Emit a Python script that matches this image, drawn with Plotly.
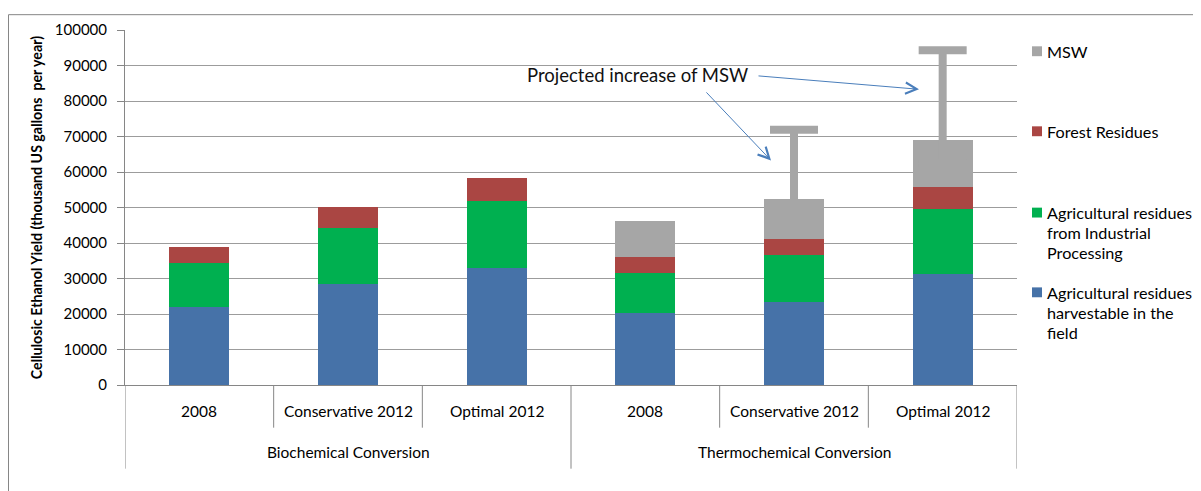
import plotly.graph_objects as go

# ---------------- data ----------------
groups = ["Biochemical Conversion", "Thermochemical Conversion"]
scenarios = ["2008", "Conservative 2012", "Optimal 2012"]
categories = [f"{g} | {s}" for g in groups for s in scenarios]

ag_field = [21900, 28400, 33000, 20200, 23500, 31400]
ag_industrial = [12500, 15700, 18800, 11400, 13100, 18100]
forest = [4400, 6000, 6600, 4400, 4600, 6200]
msw = [None, None, None, 10300, 11300, 13200]
msw_projected_increase = [None, None, None, None, 19400, 25400]

series_names = ["Agricultural residues harvestable in the field",
                "Agricultural residues from Industrial Processing",
                "Forest Residues", "MSW"]
legend_lines = [["Agricultural residues", "harvestable in the", "field"],
                ["Agricultural residues", "from Industrial", "Processing"],
                ["Forest Residues"], ["MSW"]]
colors = ["#4672A8", "#00B050", "#AA4643", "#A6A6A6"]

y_title = "Cellulosic Ethanol Yield (thousand US gallons  per year)"
annotation_text = "Projected increase of MSW"

# ---------------- layout geometry (page pixels) ----------------
OFF = 8                      # default body margin of the html page
PAGE_W, PAGE_H = 1201, 491
W, H = PAGE_W - OFF, PAGE_H - OFF
L, R_EDGE, T, B_EDGE = 125, 1017, 26, 385.3
PW, PH = R_EDGE - L, B_EDGE - T


def px(xp):
    return (xp - L) / PW


def py(yp):
    return (B_EDGE - yp) / PH


FONT = "Lato, 'Open Sans', sans-serif"
AXIS_COLOR = "#868686"

fig = go.Figure()
values = [ag_field, ag_industrial, forest, msw]
for name, vals, col in zip(series_names, values, colors):
    fig.add_trace(go.Bar(x=categories, y=vals, name=name,
                         marker=dict(color=col, line=dict(width=0)),
                         showlegend=False))

# projected MSW increase as error bars on top of the stacks
idx = [i for i, v in enumerate(msw_projected_increase) if v is not None]
totals = [sum(v[i] or 0 for v in values) for i in idx]
fig.add_trace(go.Scatter(
    x=[categories[i] for i in idx], y=totals, mode="markers",
    marker=dict(size=1, opacity=0), showlegend=False, hoverinfo="skip",
    error_y=dict(type="data", symmetric=False,
                 array=[msw_projected_increase[i] for i in idx],
                 arrayminus=[msw[i] / 2 for i in idx],
                 color="#A6A6A6", thickness=8, width=24)))

fig.update_layout(
    width=W, height=H,
    margin=dict(l=L - OFF, r=PAGE_W - R_EDGE, t=T - OFF, b=PAGE_H - B_EDGE, pad=0),
    barmode="stack", bargap=0.597,
    plot_bgcolor="white", paper_bgcolor="white",
    font=dict(family=FONT, size=15, color="#000000"),
    showlegend=False,
)
fig.update_yaxes(range=[0, 100000], dtick=10000, showgrid=True,
                 gridcolor="#9C9C9C", gridwidth=1, zeroline=False,
                 showline=True, linecolor=AXIS_COLOR, linewidth=1,
                 ticks="outside", ticklen=7, tickcolor=AXIS_COLOR,
                 tickformat="d", ticklabelstandoff=7,
                 tickfont=dict(family=FONT, size=15, color="#000000"))
fig.update_xaxes(type="category", range=[-0.5, 5.5], showticklabels=False,
                 showline=True, linecolor=AXIS_COLOR, linewidth=1,
                 showgrid=False, ticks="")

shapes = []
for xb in [-0.5, 0.5, 1.5, 2.5, 3.5, 4.5, 5.5]:
    long_line = xb in (-0.5, 2.5, 5.5)
    shapes.append(dict(type="line", xref="x", yref="paper", x0=xb, x1=xb,
                       y0=0, y1=py(470 if long_line else 428.5),
                       line=dict(color=AXIS_COLOR, width=1)))
# outer chart border
shapes.append(dict(type="rect", xref="paper", yref="paper",
                   x0=px(8.5), x1=px(1300), y0=py(10.5), y1=py(600),
                   line=dict(color=AXIS_COLOR, width=1), layer="below"))

annotations = []
for i, c in enumerate(categories):
    annotations.append(dict(x=i, xref="x", y=py(411.5), yref="paper",
                            text=scenarios[i % 3], showarrow=False,
                            xanchor="center", yanchor="middle",
                            font=dict(size=15.5, family=FONT, color="#000")))
for gi, g in enumerate(groups):
    annotations.append(dict(x=gi * 3 + 1, xref="x", y=py(453), yref="paper",
                            text=g, showarrow=False, xanchor="center",
                            yanchor="middle",
                            font=dict(size=15.5, family=FONT, color="#000")))
annotations.append(dict(x=px(36.5), y=py(206), xref="paper", yref="paper",
                        text=f"<b>{y_title}</b>", textangle=-90,
                        showarrow=False, xanchor="center", yanchor="middle",
                        font=dict(size=14.2, family=FONT, color="#000")))
annotations.append(dict(x=px(525), y=py(72), xref="paper", yref="paper",
                        text=annotation_text, showarrow=False,
                        xanchor="left", yanchor="middle",
                        font=dict(size=18.5, family=FONT, color="#111")))
for head, tail in [((919, 86), (757, 72.5)), ((771, 158), (705, 88.5))]:
    annotations.append(dict(x=px(head[0]), y=py(head[1]), xref="paper",
                            yref="paper", text="", showarrow=True,
                            ax=tail[0] - head[0], ay=tail[1] - head[1],
                            arrowhead=5, arrowsize=2.2, arrowwidth=1,
                            arrowcolor="#4A7EBB", standoff=0, startstandoff=0))

# manual legend (Excel style, reversed order)
legend_first_line_y = {3: 47.5, 2: 128.5, 1: 210.8, 0: 291.5}
for s, yc in legend_first_line_y.items():
    shapes.append(dict(type="rect", xref="paper", yref="paper",
                       x0=px(1032), x1=px(1042), y0=py(yc - 5), y1=py(yc + 5),
                       fillcolor=colors[s], line=dict(width=0)))
    for k, line in enumerate(legend_lines[s]):
        annotations.append(dict(x=px(1045), y=py(yc + 20.2 * k), xref="paper",
                                yref="paper", text=line, showarrow=False,
                                xanchor="left", yanchor="middle",
                                font=dict(size=16.2, family=FONT, color="#000")))

fig.update_layout(shapes=shapes, annotations=annotations)
fig.write_html("out.html")
